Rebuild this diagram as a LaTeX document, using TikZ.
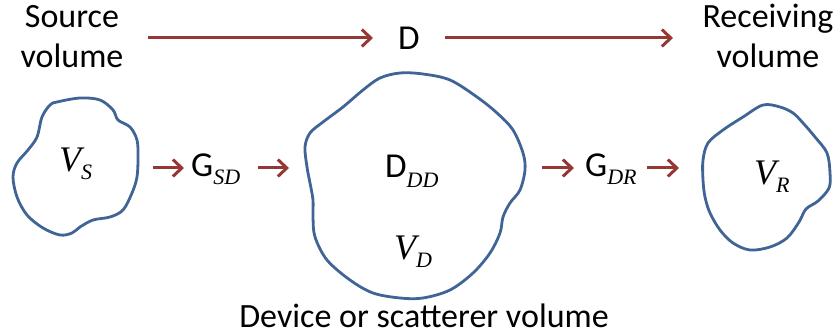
\documentclass[tikz,border=0pt]{standalone}
\usepackage{fontspec}
\setmainfont{Carlito}
\newfontfamily\tms{Liberation Serif}
\usetikzlibrary{arrows.meta}
\definecolor{blobblue}{RGB}{64,100,150}
\definecolor{arrred}{RGB}{149,55,53}
\newcommand\lowsub[2][8pt]{\raisebox{-#1}{\fontsize{22}{22}\selectfont\tms\itshape #2}}
\newcommand\bigv{{\fontsize{36}{36}\selectfont\tms\itshape V}}
\tikzset{
  blob/.style={draw=blobblue, line width=2.8pt, line join=round},
  arr/.style={draw=arrred, line width=3pt,
    -{Straight Barb[length=9pt,width=17pt]}},
  lbl/.style={font=\fontsize{34}{40}\selectfont, inner sep=0pt, align=center},
  sym/.style={font=\fontsize{35}{35}\selectfont, inner sep=0pt},
}
\begin{document}
\begin{tikzpicture}[x=1pt,y=-1pt]
\useasboundingbox (0,0) rectangle (834,336);
% blobs
\draw[blob] plot[smooth cycle, tension=0.55] coordinates {
 (57,102) (80,98) (100,100) (113,110) (118,120) (130,127) (137,140) (138,157)
 (137,177) (132,193) (123,210) (110,217) (93,220) (80,227) (72,233) (60,235)
 (43,228) (27,215) (17,197) (13,177) (17,163) (28,150) (37,137) (42,117) (50,105)};
\draw[blob] plot[smooth cycle, tension=0.55] coordinates {
 (400,73) (423,74) (450,80) (477,97) (497,113) (513,130) (523,153) (525,170)
 (520,190) (510,203) (503,217) (500,233) (490,253) (473,273) (450,290) (423,298)
 (400,298) (373,293) (350,280) (327,260) (315,237) (313,217) (313,200) (310,183)
 (307,167) (305,147) (310,133) (323,122) (343,107) (363,90) (380,78)};
\draw[blob] plot[smooth cycle, tension=0.55] coordinates {
 (763,105) (780,107) (793,113) (803,123) (815,137) (827,153) (830,173) (829,188)
 (818,201) (806,209) (799,222) (787,238) (770,247) (750,250) (733,243) (720,230)
 (710,213) (705,197) (703,180) (703,160) (708,143) (723,130) (743,117)};
% texts
\node[lbl, anchor=base] (src) at (72,68) {Source\\volume};
\node[lbl, anchor=base] (rcv) at (768,68) {Receiving\\volume};
\node[sym, anchor=base] (D) at (409,50) {D};
\node[sym, font=\fontsize{34}{34}\selectfont, anchor=base] (dev) at (424,327) {Device or scatterer volume};
\node[inner sep=0pt, anchor=base west] (vs) at (59,172) {\bigv\lowsub{S}};
\node[inner sep=0pt, anchor=base west] (vd) at (394,260) {\bigv\lowsub{D}};
\node[inner sep=0pt, anchor=base west] (vr) at (754,185) {\bigv\lowsub{R}};
\node[sym, anchor=base west] (ddd) at (385,178) {D\lowsub[10pt]{DD}};
\node[sym, anchor=base west] (gsd) at (191,177) {G\lowsub{SD}};
\node[sym, anchor=base west] (gdr) at (585,177) {G\lowsub{DR}};
% arrow ends
\coordinate (t1s) at (148,38); \coordinate (t1e) at (373,38);
\coordinate (t2s) at (445,38); \coordinate (t2e) at (673,38);
\coordinate (m1s) at (153,168); \coordinate (m1e) at (184,168);
\coordinate (m2s) at (258,168); \coordinate (m2e) at (289,168);
\coordinate (m3s) at (542,168); \coordinate (m3e) at (574,168);
\coordinate (m4s) at (647,168); \coordinate (m4e) at (679,168);
\draw[arr] (t1s) -- (t1e);
\draw[arr] (t2s) -- (t2e);
\draw[arr] (m1s) -- (m1e);
\draw[arr] (m2s) -- (m2e);
\draw[arr] (m3s) -- (m3e);
\draw[arr] (m4s) -- (m4e);
\end{tikzpicture}
\end{document}
